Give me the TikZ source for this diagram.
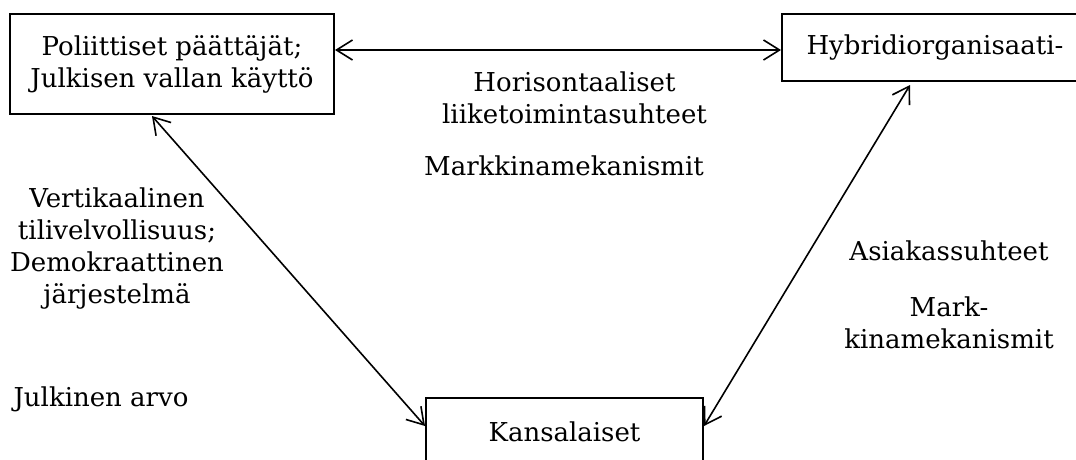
\documentclass[tikz,border=0pt]{standalone}
\usepackage{fontspec}
\setmainfont{DejaVu Serif}
\usetikzlibrary{arrows.meta,calc}
\begin{document}
\begin{tikzpicture}[x=1pt,y=-1pt,
  every node/.style={font=\fontsize{26}{32}\selectfont},
  box/.style={draw,line width=2pt,minimum width=#1,align=center,inner sep=0pt},
  lbl/.style={anchor=base,align=center,inner sep=0pt},
  link/.style={line width=1.6pt,{Straight Barb[length=16pt,width=20pt]}-{Straight Barb[length=16pt,width=20pt]}}]
\useasboundingbox (0,0) rectangle (1076,459);
\clip (0,0) rectangle (1076,459);
% the three actors
\node[box=324pt,minimum height=100pt] (pol) at (172,64) {Poliittiset päättäjät;\\Julkisen vallan käyttö};
\node[box=306pt,minimum height=67pt] (hyb) at (935,47.5) {Hybridiorganisaati-};
\node[box=277pt,minimum height=68pt] (kan) at (564.5,432) {Kansalaiset};
% relations between them
\draw[link] ($(pol.east)+(0,-14)$) -- ($(hyb.west)+(0,2.5)$);
\draw[link] ($(pol.south)+(-20,1)$) -- ($(kan.north west)+(0,29)$);
\draw[link] ($(hyb.south)+(-25,3)$) -- ($(kan.north east)+(0,29)$);
% relation labels (base = baseline of the last line)
\node[lbl] (hor) at (574.5,123) {Horisontaaliset\\liiketoimintasuhteet};
\node[lbl] (mk1) at (564,175) {Markkinamekanismit};
\node[lbl] (ver) at (117,303) {Vertikaalinen\\tilivelvollisuus;\\Demokraattinen\\järjestelmä};
\node[lbl] (jul) at (101,406) {Julkinen arvo};
\node[lbl] (asi) at (949,260) {Asiakassuhteet};
\node[lbl] (mk2) at (949,348) {Mark-\\kinamekanismit};
\end{tikzpicture}
\end{document}
